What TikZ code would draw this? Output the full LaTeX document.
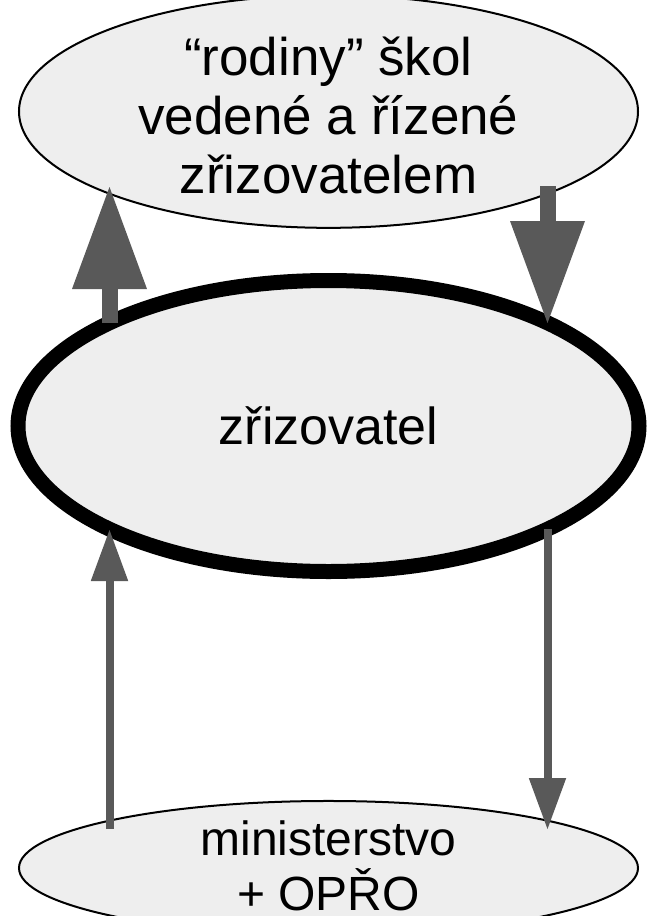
\documentclass[tikz,border=0pt]{standalone}
\usepackage{fontspec}
\setmainfont{Liberation Sans}
\usetikzlibrary{shapes.geometric,arrows.meta}
\definecolor{arrowgray}{HTML}{595959}
\definecolor{nodefill}{HTML}{EEEEEE}
\begin{document}
\begin{tikzpicture}[x=1pt,y=-1pt,
  bubble/.style={ellipse, draw=black, fill=nodefill, inner sep=0pt, outer sep=0pt, align=center, text=black},
  bigarrow/.style={draw=arrowgray, line width=16pt, -{Triangle[width=75pt,length=102pt,line width=0pt]}},
  thinarrow/.style={draw=arrowgray, line width=8pt, -{Triangle[width=37.5pt,length=51pt,line width=0pt]}}]
\useasboundingbox (0,0) rectangle (649,916);
\node[bubble, line width=2pt, minimum width=619pt, minimum height=210pt,
      font=\fontsize{53}{59}\selectfont] (fam) at (328.5,111.5)
  {\rule{0pt}{46pt}“rodiny” škol\\vedené a řízené\\zřizovatelem};
\node[bubble, line width=15pt, minimum width=621pt, minimum height=291pt,
      font=\fontsize{52}{60}\selectfont] (mid) at (328.5,426) {zřizovatel};
\node[bubble, line width=2pt, minimum width=619pt, minimum height=110pt,
      font=\fontsize{48}{55}\selectfont] (min) at (328.5,868)
  {ministerstvo\\+ OPŘO\rule[-5pt]{0pt}{0pt}};
% attachment points on the ellipse borders
\coordinate (famL) at (109.5,187);
\coordinate (famR) at (547.5,186);
\coordinate (midTL) at (109.5,323);
\coordinate (midTR) at (547.5,323);
\coordinate (midBL) at (109.5,530);
\coordinate (midBR) at (547.5,529);
\coordinate (minL) at (109.5,829);
\coordinate (minR) at (547.5,829);
\draw[bigarrow] (midTL) -- (famL);
\draw[bigarrow] (famR) -- (midTR);
\draw[thinarrow] (minL) -- (midBL);
\draw[thinarrow] (midBR) -- (minR);
\end{tikzpicture}
\end{document}
